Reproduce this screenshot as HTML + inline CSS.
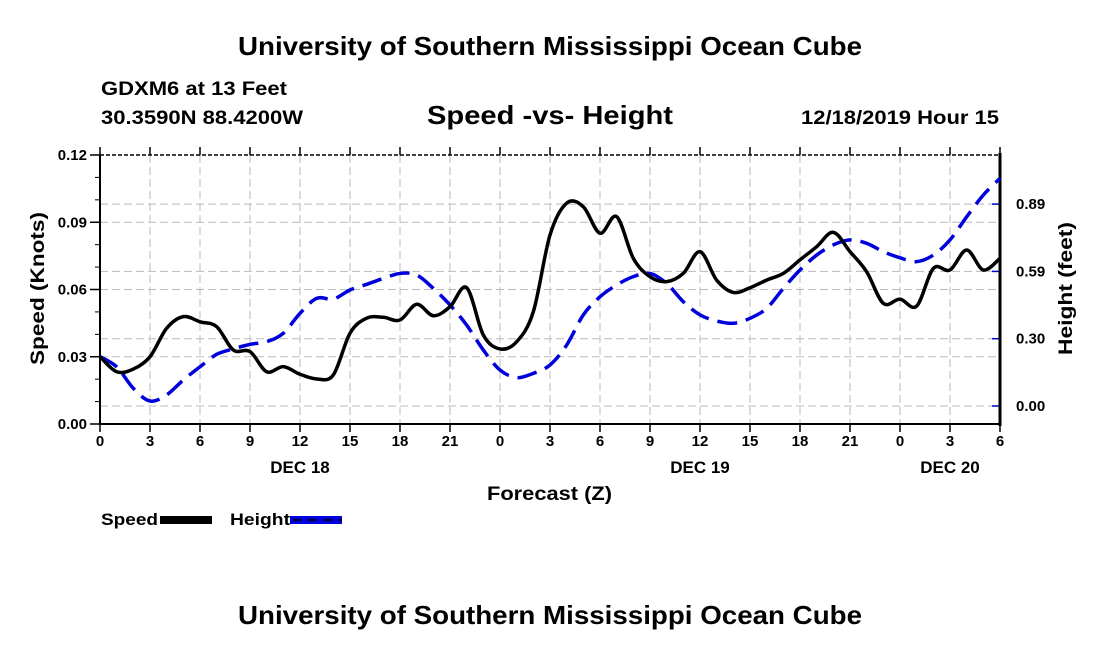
<!DOCTYPE html>
<html><head><meta charset="utf-8"><style>
body{margin:0;background:#fff;}
svg text{font-family:"Liberation Sans",sans-serif;font-weight:bold;}
</style></head><body>
<svg id="c" width="1100" height="650" xmlns="http://www.w3.org/2000/svg">
<text x="238" y="55" font-size="26" textLength="624" lengthAdjust="spacingAndGlyphs">University of Southern Mississippi Ocean Cube</text>
<text x="101" y="95" font-size="19" textLength="186" lengthAdjust="spacingAndGlyphs">GDXM6 at 13 Feet</text>
<text x="101" y="124" font-size="19" textLength="202" lengthAdjust="spacingAndGlyphs">30.3590N 88.4200W</text>
<text x="427" y="124" font-size="26" textLength="246" lengthAdjust="spacingAndGlyphs">Speed -vs- Height</text>
<text x="801" y="124" font-size="19" textLength="198" lengthAdjust="spacingAndGlyphs">12/18/2019 Hour 15</text>
<g id="grid"></g>
<g id="axes"></g>
<g id="series"></g>
<text x="487" y="500" font-size="19" textLength="125" lengthAdjust="spacingAndGlyphs">Forecast (Z)</text>
<text transform="translate(44,365) rotate(-90)" font-size="19" textLength="153" lengthAdjust="spacingAndGlyphs">Speed (Knots)</text>
<text transform="translate(1072,355) rotate(-90)" font-size="19" textLength="133" lengthAdjust="spacingAndGlyphs">Height (feet)</text>
<g>
<text x="101" y="525" font-size="17" textLength="57" lengthAdjust="spacingAndGlyphs">Speed</text>
<rect x="160" y="516" width="52" height="8" fill="#000"/>
<text x="230" y="525" font-size="17" textLength="60" lengthAdjust="spacingAndGlyphs">Height</text>
<rect x="290" y="516" width="52" height="8" fill="#0000dd"/>
<line x1="293" y1="520" x2="342" y2="520" stroke="#000044" stroke-width="2" stroke-dasharray="9,6"/>
</g>
<text x="238" y="624" font-size="26" textLength="624" lengthAdjust="spacingAndGlyphs">University of Southern Mississippi Ocean Cube</text>
</svg>
<script>
const hourLabels=["0","3","6","9","12","15","18","21","0","3","6","9","12","15","18","21","0","3","6"];
const dayLabels=["DEC 18","DEC 19","DEC 20"];
const dayHours=[12,36,51];
const speedTicks=[0,0.03,0.06,0.09,0.12];
const speedTickLabels=["0.00","0.03","0.06","0.09","0.12"];
const heightTicks=[0,0.297,0.594,0.891];
const heightTickLabels=["0.00","0.30","0.59","0.89"];
const speed=[.030,.0233,.0245,.030,.0427,.0479,.0456,.0434,.033,.0323,.0233,.0256,.0222,.0201,.0219,.0405,.0472,.0476,.0464,.0534,.0483,.0523,.0608,.0397,.0335,.0367,.0501,.0843,.0985,.0969,.0851,.0925,.0739,.0657,.0635,.0672,.0769,.0642,.0587,.0608,.0642,.0672,.0732,.0791,.0855,.0769,.0679,.0538,.0557,.0526,.0694,.0687,.0776,.0687,.0739];
const height=[.218,.173,.078,.022,.049,.115,.173,.228,.252,.272,.284,.321,.409,.475,.472,.512,.537,.563,.585,.578,.519,.446,.357,.247,.159,.125,.144,.181,.269,.402,.482,.534,.571,.585,.541,.460,.402,.375,.365,.387,.431,.519,.600,.666,.711,.733,.718,.681,.654,.637,.666,.733,.835,.931,1.005];

const X0=100,X1=1000,T=155,B=424;
const xS=h=>X0+(X1-X0)*h/54;
const yS=v=>B-(B-T)*v/0.12;
const yH=v=>406-v*226.6;
const NS="http://www.w3.org/2000/svg";
function mk(tag,attrs,parent){const e=document.createElementNS(NS,tag);for(const k in attrs)e.setAttribute(k,attrs[k]);parent.appendChild(e);return e;}
const grid=document.getElementById('grid'),axes=document.getElementById('axes'),ser=document.getElementById('series');
const gs={stroke:"#bbb","stroke-width":1,"stroke-dasharray":"8,4"};
hourLabels.forEach((l,i)=>{const x=xS(i*3);
 if(i>0&&i<hourLabels.length-1){const g=mk('line',Object.assign({x1:x,x2:x,y1:T,y2:B},gs),grid);}
 const t1=mk('line',{x1:x,x2:x,y1:B,y2:B+8,stroke:"#000","stroke-width":1.5},axes);
 const t2=mk('line',{x1:x,x2:x,y1:T,y2:T-8,stroke:"#000","stroke-width":1.5},axes);
 const tx=mk('text',{x:x,y:B+22,"text-anchor":"middle","font-size":15},axes);tx.textContent=l;
});
dayLabels.forEach((l,i)=>{const tx=mk('text',{x:xS(dayHours[i]),y:473,"text-anchor":"middle","font-size":17},axes);tx.textContent=l;});
speedTicks.forEach((v,i)=>{const y=yS(v);
 if(i>0&&i<speedTicks.length-1){const g=mk('line',Object.assign({x1:X0,x2:X1,y1:y,y2:y},gs),grid);}
 const t=mk('line',{x1:X0-10,x2:X0,y1:y,y2:y,stroke:"#000","stroke-width":1.5},axes);
 const tx=mk('text',{x:X0-13,y:y+5,"text-anchor":"end","font-size":15},axes);tx.textContent=speedTickLabels[i];
});
for(let v=0.01;v<0.12;v+=0.01){if(Math.abs(v/0.03-Math.round(v/0.03))<0.01)continue;const y=yS(v);const t=mk('line',{x1:X0-5,x2:X0,y1:y,y2:y,stroke:"#000","stroke-width":1},axes);}
heightTicks.forEach((v,i)=>{const y=yH(v);
 const g=mk('line',Object.assign({x1:X0,x2:X1,y1:y,y2:y},gs),grid);
 const t=mk('line',{x1:X1-8,x2:X1,y1:y,y2:y,stroke:"#0000cc","stroke-width":1.5},axes);
 const tx=mk('text',{x:X1+16,y:y+5,"font-size":15},axes);tx.textContent=heightTickLabels[i];
});
const l1=mk('line',{x1:X0,x2:X1,y1:B,y2:B,stroke:"#000","stroke-width":2},axes);
const l2=mk('line',{x1:X0,x2:X1,y1:T,y2:T,stroke:"#000","stroke-width":1.5,"stroke-dasharray":"4,2"},axes);
const l3=mk('line',{x1:X0,x2:X0,y1:T,y2:B,stroke:"#000","stroke-width":2},axes);
const l4=mk('line',{x1:X1,x2:X1,y1:T-2,y2:B+2,stroke:"#000","stroke-width":3},axes);
function smooth(pts){let d=`M${pts[0][0]},${pts[0][1]}`;for(let i=0;i<pts.length-1;i++){const p0=pts[Math.max(0,i-1)],p1=pts[i],p2=pts[i+1],p3=pts[Math.min(pts.length-1,i+2)];
 d+=` C${p1[0]+(p2[0]-p0[0])/6},${p1[1]+(p2[1]-p0[1])/6} ${p2[0]-(p3[0]-p1[0])/6},${p2[1]-(p3[1]-p1[1])/6} ${p2[0]},${p2[1]}`;}return d;}
const hp=mk('path',{d:smooth(height.map((v,i)=>[xS(i),yH(v)])),fill:"none",stroke:"#0000dd","stroke-width":3.5,"stroke-dasharray":"20,9"},ser);


const sp=mk('path',{d:smooth(speed.map((v,i)=>[xS(i),yS(v)])),fill:"none",stroke:"#000","stroke-width":3.5,"stroke-linejoin":"round"},ser);


</script>
</body></html>
